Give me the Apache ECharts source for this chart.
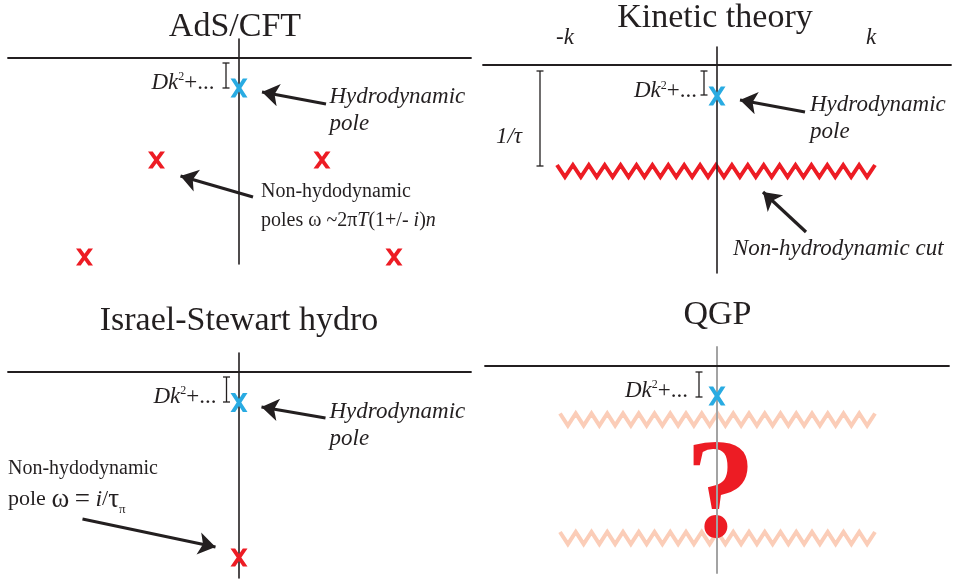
<!DOCTYPE html>
<html><head><meta charset="utf-8">
<script src="https://cdn.jsdelivr.net/npm/echarts@6/dist/echarts.min.js"></script>
<style>html,body{margin:0;padding:0;background:#fff}#c{width:956px;height:583px}</style>
</head><body><div id="c"></div>
<script>
// ---------- data ----------
const panelTitles = ['AdS/CFT', 'Kinetic theory', 'Israel-Stewart hydro', 'QGP'];
// hydrodynamic pole (Re, Im) per panel
const hydroPoles = [[0, -0.30], [0, -0.31], [0, -0.305], [0, -0.30]];
// AdS/CFT non-hydrodynamic poles
const adsPoles = [[-0.825, -1.02], [0.83, -1.02], [-1.545, -1.99], [1.55, -1.99]];
// Israel-Stewart non-hydrodynamic pole
const isPoles = [[0, -1.855]];
// branch cuts: [Re start, Re end, Im]
const kineticCuts = [[-1.60, 1.58, -1.06]];
const qgpCuts = [[-1.57, 1.58, -0.535], [-1.57, 1.58, -1.72]];
// Dk^2 distance bars: [Re, Im top, Im bottom] per panel
const dkBars = [[-0.13, -0.05, -0.30], [-0.13, -0.06, -0.30], [-0.125, -0.05, -0.30], [-0.18, -0.06, -0.31]];
const tauBars = [[-1.77, -0.06, -1.01]];
// arrows: [panel, x1, y1, x2, y2]
const arrows = [
  [0, 0.87, -0.46, 0.23, -0.34],
  [0, 0.14, -1.39, -0.585, -1.18],
  [1, 0.88, -0.47, 0.23, -0.35],
  [1, 0.89, -1.67, 0.46, -1.27],
  [2, 0.865, -0.46, 0.225, -0.35],
  [2, -1.565, -1.47, -0.235, -1.75]
];
// text labels
const dkText = '{i|Dk}{s|2}{r|+...}';
const hydroText = '{h|Hydrodynamic}\n{h|pole}';
const adsNonHydroText = '{n|Non-hydodynamic}\n{n|poles ω ~2π}{ni|T}{n|(1+/- }{ni|i}{n|)}{ni|n}';
const isNonHydroText = '{n|Non-hydodynamic}\n{m|pole }{w|ω}{m| }{w|=}{m| }{mi|i}{m|/}{w|τ}{sub|π}';
const cutText = 'Non-hydrodynamic cut';
const tauText = '1/τ';
const kTicks = [[-1.52, 0.27, '-k'], [1.54, 0.27, 'k']];
const qgpMark = '?';

// ---------- layout ----------
const INK = '#231f20', RED = '#ed1c24', BLUE = '#29abe2', SALMON = '#fbcdb8';
const SERIF = '"Liberation Serif", "Times New Roman", serif';
const grids = [
  {left: 8, top: 39, width: 463, height: 225},
  {left: 483, top: 47, width: 468, height: 226},
  {left: 8, top: 353, width: 463, height: 225},
  {left: 485, top: 347, width: 464, height: 226}
];
const xr = [[-2.31, 2.32], [-2.34, 2.34], [-2.31, 2.32], [-2.32, 2.32]];
const yr = [[-2.06, 0.19], [-2.08, 0.18], [-2.06, 0.19], [-2.07, 0.19]];
const titlePos = [[235, 10.5], [715, 1], [239, 304], [717.5, 298.5]];

const xAxis = xr.map((r, i) => ({
  type: 'value', gridIndex: i, min: r[0], max: r[1], z: 3,
  axisLine: {show: true, onZero: true, lineStyle: {color: INK, width: 1.8}},
  axisTick: {show: false}, axisLabel: {show: false}, splitLine: {show: false}
}));
const yAxis = yr.map((r, i) => ({
  type: 'value', gridIndex: i, min: r[0], max: r[1], z: 3,
  axisLine: {show: true, onZero: true, lineStyle: {color: i === 3 ? '#a3a3a3' : INK, width: i === 3 ? 2 : 1.6}},
  axisTick: {show: false}, axisLabel: {show: false}, splitLine: {show: false}
}));

const XPATH = 'path://M0,0 H5.5 L10,6.2 L14.5,0 H20 L12.75,10 L20,20 H14.5 L10,13.8 L5.5,20 H0 L7.25,10 Z';

const rich = {
  i: {fontFamily: SERIF, fontStyle: 'italic', fontSize: 23, lineHeight: 23, color: INK},
  r: {fontFamily: SERIF, fontSize: 23, lineHeight: 23, color: INK},
  s: {fontFamily: SERIF, fontSize: 12, lineHeight: 12, verticalAlign: 'top', color: INK},
  h: {fontFamily: SERIF, fontStyle: 'italic', fontSize: 23, lineHeight: 27, color: INK},
  n: {fontFamily: SERIF, fontSize: 20, lineHeight: 29, color: INK},
  ni: {fontFamily: SERIF, fontStyle: 'italic', fontSize: 20, lineHeight: 29, color: INK},
  m: {fontFamily: SERIF, fontSize: 22, lineHeight: 33, color: INK},
  mi: {fontFamily: SERIF, fontStyle: 'italic', fontSize: 24, lineHeight: 33, color: INK},
  w: {fontFamily: SERIF, fontSize: 27, lineHeight: 33, color: INK},
  sub: {fontFamily: SERIF, fontSize: 13, lineHeight: 13, verticalAlign: 'bottom', color: INK},
  c: {fontFamily: SERIF, fontStyle: 'italic', fontSize: 23, lineHeight: 27, color: INK},
  q: {fontFamily: SERIF, fontWeight: 'bold', fontSize: 142, lineHeight: 142, color: RED}
};

function lbl(x, y, text, align) {
  return {value: [x, y], label: {show: true, formatter: text, align: align, verticalAlign: 'middle', position: [0.5, 0.5], rich: rich}};
}

const series = [];
function onGrid(i, s) { s.xAxisIndex = i; s.yAxisIndex = i; series.push(s); }

// poles
hydroPoles.forEach((p, i) => onGrid(i, {
  type: 'scatter', symbol: XPATH, symbolSize: [17, 19], z: 5, silent: true,
  itemStyle: {color: BLUE, opacity: 1}, data: [p]
}));
onGrid(0, {type: 'scatter', symbol: XPATH, symbolSize: [17, 17], z: 5, silent: true, itemStyle: {color: RED, opacity: 1}, data: adsPoles});
onGrid(2, {type: 'scatter', symbol: XPATH, symbolSize: [17, 18], z: 5, silent: true, itemStyle: {color: RED, opacity: 1}, data: isPoles});

// zig-zag cuts
function zigzag(color) {
  return function (params, api) {
    const a = api.coord([api.value(0), api.value(2)]);
    const b = api.coord([api.value(1), api.value(2)]);
    const len = b[0] - a[0];
    const n = Math.round(len / 16);
    const amp = 6;
    const pts = [];
    for (let k = 0; k <= 2 * n; k++) pts.push([a[0] + k * len / (2 * n), a[1] + (k % 2 ? amp : -amp)]);
    return {type: 'polyline', shape: {points: pts}, style: {stroke: color, lineWidth: 4, fill: null, lineJoin: 'miter'}};
  };
}
onGrid(1, {type: 'custom', renderItem: zigzag(RED), z: 2, silent: true, data: kineticCuts});
onGrid(3, {type: 'custom', renderItem: zigzag(SALMON), z: 2, silent: true, data: qgpCuts});

// distance bars
function bar(params, api) {
  const x = api.value(0);
  const p1 = api.coord([x, api.value(1)]);
  const p2 = api.coord([x, api.value(2)]);
  const w = 3.5, st = {stroke: INK, lineWidth: 1.3};
  return {type: 'group', children: [
    {type: 'line', shape: {x1: p1[0], y1: p1[1], x2: p2[0], y2: p2[1]}, style: st},
    {type: 'line', shape: {x1: p1[0] - w, y1: p1[1], x2: p1[0] + w, y2: p1[1]}, style: st},
    {type: 'line', shape: {x1: p2[0] - w, y1: p2[1], x2: p2[0] + w, y2: p2[1]}, style: st}
  ]};
}
dkBars.forEach((b, i) => onGrid(i, {type: 'custom', renderItem: bar, z: 4, silent: true, data: [b]}));
onGrid(1, {type: 'custom', renderItem: bar, z: 4, silent: true, data: tauBars});

// arrows
[0, 1, 2].forEach(i => onGrid(i, {
  type: 'lines', coordinateSystem: 'cartesian2d', z: 4, silent: true,
  symbol: ['none', 'arrow'], symbolSize: [14, 17],
  lineStyle: {color: INK, width: 3.2, opacity: 1}, itemStyle: {color: INK},
  data: arrows.filter(a => a[0] === i).map(a => ({coords: [[a[1], a[2]], [a[3], a[4]]]}))
}));

// labels
const labelBase = {type: 'scatter', symbol: 'circle', symbolSize: 1, z: 6, silent: true, clip: false, itemStyle: {color: 'rgba(0,0,0,0)', opacity: 1}};
onGrid(0, Object.assign({}, labelBase, {data: [
  lbl(-0.245, -0.246, dkText, 'right'),
  lbl(0.905, -0.527, hydroText, 'left'),
  lbl(0.22, -1.48, adsNonHydroText, 'left')
]}));
onGrid(1, Object.assign({}, labelBase, {data: [
  lbl(-0.20, -0.26, dkText, 'right'),
  lbl(0.93, -0.53, hydroText, 'left'),
  lbl(0.16, -1.84, '{c|' + cutText + '}', 'left'),
  lbl(-2.08, -0.72, '{i|' + tauText + '}', 'center')
].concat(kTicks.map(t => lbl(t[0], t[1], '{i|' + t[2] + '}', 'center')))}));
onGrid(2, Object.assign({}, labelBase, {data: [
  lbl(-0.225, -0.246, dkText, 'right'),
  lbl(0.905, -0.53, hydroText, 'left'),
  lbl(-2.31, -1.13, isNonHydroText, 'left')
]}));
onGrid(3, Object.assign({}, labelBase, {z: 2, data: [
  lbl(-0.29, -0.246, dkText, 'right'),
  lbl(0.035, -1.33, '{q|' + qgpMark + '}', 'center')
]}));

const option = {
  animation: false,
  backgroundColor: '#ffffff',
  title: panelTitles.map((t, i) => ({
    text: t, left: titlePos[i][0], top: titlePos[i][1], textAlign: 'center', padding: 0,
    textStyle: {fontFamily: SERIF, fontWeight: 'normal', fontSize: 34, lineHeight: 34, color: INK}
  })),
  grid: grids,
  xAxis: xAxis,
  yAxis: yAxis,
  series: series
};
const chart = echarts.init(document.getElementById('c'), null, {renderer: 'canvas'});
chart.setOption(option);
</script></body></html>
